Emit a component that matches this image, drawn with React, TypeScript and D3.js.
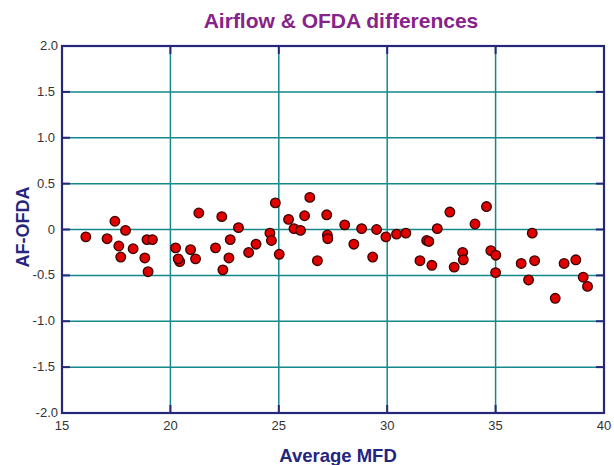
import React, { useEffect, useRef } from 'react';
import * as d3 from 'd3';

// Average MFD (x) vs AF-OFDA difference (y)
const mfd = [
  16.1, 17.08, 17.44, 17.93, 17.62, 17.71, 18.28, 18.82, 18.92, 19.17, 18.97,
  20.24, 20.43, 20.36, 20.93, 21.16, 21.31, 22.08, 22.37, 22.7, 22.42, 22.76,
  23.14, 23.61, 23.95, 24.59, 24.66, 24.84, 25.02, 25.45, 25.7, 26.0, 26.19,
  26.43, 26.78, 27.21, 27.24, 27.26,
  28.04, 28.46, 28.82, 29.33, 29.51, 29.94, 30.43, 30.86, 31.51, 31.82, 31.92,
  32.06, 32.31, 32.89, 33.09, 33.48, 33.51, 34.05, 34.58, 34.78, 35.01, 35.0,
  36.18, 36.69, 36.8, 36.52, 37.75, 38.16, 38.7, 39.04, 39.24
];
const diff = [
  -0.08, -0.1, 0.09, -0.01, -0.18, -0.3, -0.21, -0.31, -0.11, -0.11, -0.46,
  -0.2, -0.35, -0.32, -0.22, -0.32, 0.18, -0.2, 0.14, -0.31, -0.44, -0.11,
  0.02, -0.25, -0.16, -0.04, -0.12, 0.29, -0.27, 0.11, 0.01, -0.01, 0.15,
  0.35, -0.34, 0.16, -0.06, -0.1,
  0.05, -0.16, 0.01, -0.3, 0.0, -0.08, -0.05, -0.04, -0.34, -0.12, -0.13,
  -0.39, 0.01, 0.19, -0.41, -0.25, -0.33, 0.06, 0.25, -0.23, -0.28, -0.47,
  -0.37, -0.04, -0.34, -0.55, -0.75, -0.37, -0.33, -0.52, -0.62
];

const xTicks = [15, 20, 25, 30, 35, 40];
const yTicks = [2, 1.5, 1, 0.5, 0, -0.5, -1, -1.5, -2];
const yTickLabels = ['2.0', '1.5', '1.0', '0.5', '0', '-0.5', '-1.0', '-1.5', '-2.0'];

function ScatterChart() {
  const svgRef = useRef<SVGSVGElement>(null);

  useEffect(() => {
    if (!svgRef.current) return;

    const width = 614;
    const height = 465;
    const margin = { top: 46, right: 10, bottom: 52, left: 62 };
    const font = "'Liberation Sans', Arial, sans-serif";

    const svg = d3.select(svgRef.current);
    svg.selectAll('*').remove();
    svg.attr('width', width).attr('height', height);

    const x = d3.scaleLinear().domain([15, 40]).range([margin.left, width - margin.right]);
    const y = d3.scaleLinear().domain([-2, 2]).range([height - margin.bottom, margin.top]);

    // grid
    const grid = svg.append('g').attr('stroke', '#13898c').attr('stroke-width', 1.5);
    xTicks.slice(1, -1).forEach(t => {
      grid.append('line')
        .attr('x1', x(t)).attr('x2', x(t))
        .attr('y1', y(2)).attr('y2', y(-2));
    });
    yTicks.slice(1, -1).forEach(t => {
      grid.append('line')
        .attr('x1', x(15)).attr('x2', x(40))
        .attr('y1', y(t)).attr('y2', y(t));
    });

    // frame + inward ticks
    const frame = svg.append('g').attr('stroke', '#27277a').attr('fill', 'none');
    frame.append('rect')
      .attr('x', x(15)).attr('y', y(2))
      .attr('width', x(40) - x(15)).attr('height', y(-2) - y(2))
      .attr('stroke-width', 2.2);
    yTicks.forEach(t => {
      frame.append('line').attr('x1', x(15)).attr('x2', x(15) + 8)
        .attr('y1', y(t)).attr('y2', y(t)).attr('stroke-width', 2);
      frame.append('line').attr('x1', x(40)).attr('x2', x(40) - 8)
        .attr('y1', y(t)).attr('y2', y(t)).attr('stroke-width', 2);
    });
    xTicks.forEach(t => {
      frame.append('line').attr('x1', x(t)).attr('x2', x(t))
        .attr('y1', y(-2)).attr('y2', y(-2) - 8).attr('stroke-width', 2);
      frame.append('line').attr('x1', x(t)).attr('x2', x(t))
        .attr('y1', y(2)).attr('y2', y(2) + 8).attr('stroke-width', 2);
    });

    // tick labels
    svg.append('g')
      .selectAll('text')
      .data(yTicks)
      .join('text')
      .attr('x', (d, i) => (i === 0 || i === yTicks.length - 1 ? x(15) - 4 : x(15) - 7))
      .attr('y', d => y(d) + 4)
      .attr('text-anchor', 'end')
      .attr('font-family', font)
      .attr('font-size', 13)
      .attr('fill', '#333')
      .text((d, i) => yTickLabels[i]);

    svg.append('g')
      .selectAll('text')
      .data(xTicks)
      .join('text')
      .attr('x', d => x(d))
      .attr('y', y(-2) + 17)
      .attr('text-anchor', 'middle')
      .attr('font-family', font)
      .attr('font-size', 13)
      .attr('fill', '#333')
      .text(d => d);

    // points
    svg.append('g')
      .selectAll('circle')
      .data(mfd.map((m, i) => [m, diff[i]]))
      .join('circle')
      .attr('cx', d => x(d[0]))
      .attr('cy', d => y(d[1]))
      .attr('r', 4.8)
      .attr('fill', '#e00000')
      .attr('stroke', '#3a0000')
      .attr('stroke-width', 1.3);

    // titles
    svg.append('text')
      .attr('x', 341)
      .attr('y', 28)
      .attr('text-anchor', 'middle')
      .attr('font-family', font)
      .attr('font-weight', 'bold')
      .attr('font-size', 21)
      .attr('fill', '#86238a')
      .text('Airflow & OFDA differences');

    svg.append('text')
      .attr('x', 338)
      .attr('y', 462)
      .attr('text-anchor', 'middle')
      .attr('font-family', font)
      .attr('font-weight', 'bold')
      .attr('font-size', 18.5)
      .attr('fill', '#25247e')
      .text('Average MFD');

    svg.append('text')
      .attr('transform', `translate(29,227) rotate(-90)`)
      .attr('text-anchor', 'middle')
      .attr('font-family', font)
      .attr('font-weight', 'bold')
      .attr('font-size', 18)
      .attr('fill', '#25247e')
      .text('AF-OFDA');
  }, []);

  return <svg ref={svgRef} style={{ position: 'absolute', left: 0, top: 0 }}></svg>;
}

export default function App() {
  return <ScatterChart />;
}
